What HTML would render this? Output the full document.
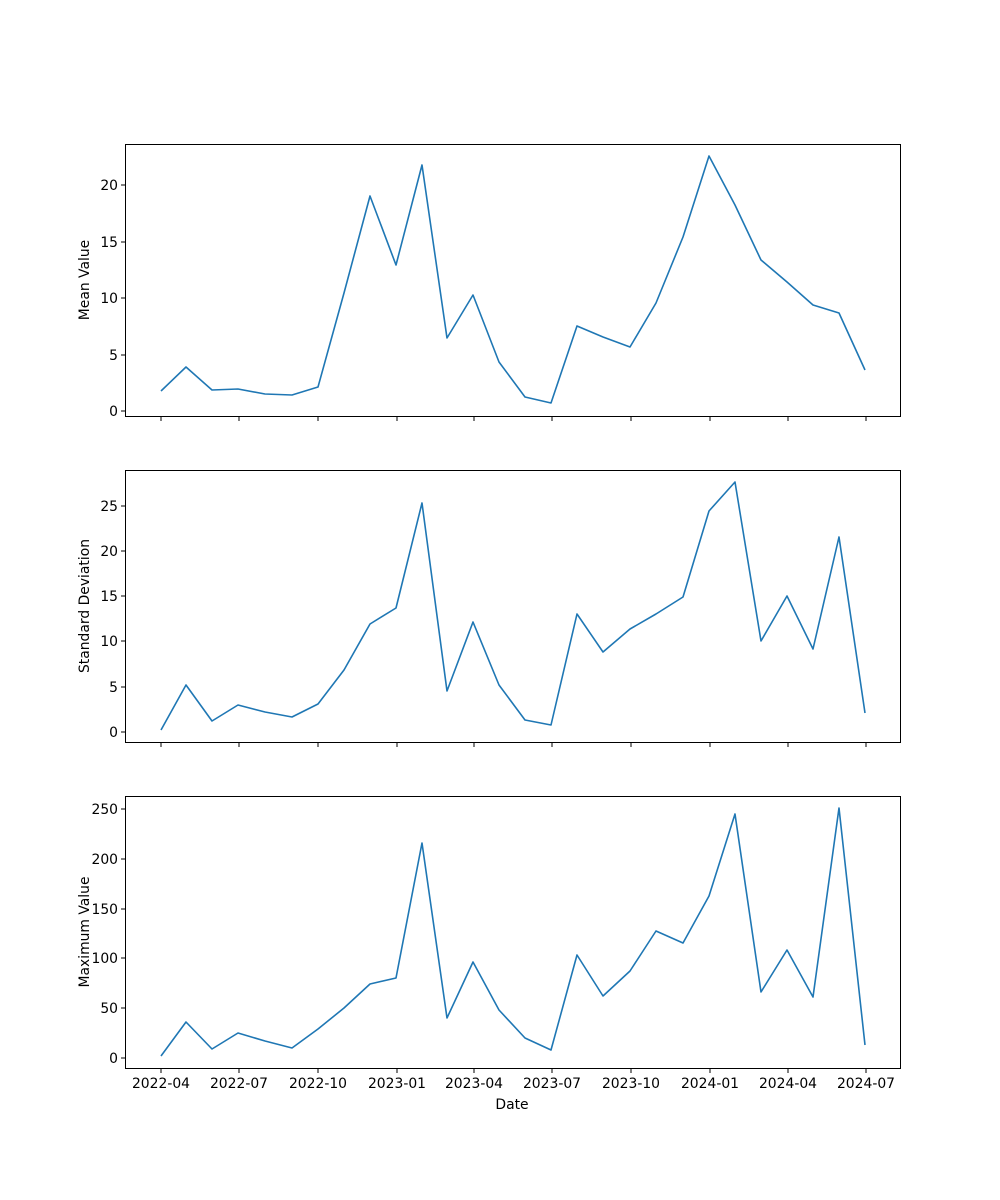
<!DOCTYPE html>
<html><head><meta charset="utf-8"><style>body{margin:0;background:#fff}svg{display:block}text{font-family:"DejaVu Sans","Liberation Sans",sans-serif;font-size:13.9px;fill:#000}</style></head><body>
<svg width="1000" height="1200" viewBox="0 0 1000 1200" xmlns="http://www.w3.org/2000/svg">
<rect width="1000" height="1200" fill="#fff"/>
<g fill="none" stroke="#000" stroke-width="1">
<rect x="125.5" y="144.5" width="775" height="272"/>
<rect x="125.5" y="470.5" width="775" height="272"/>
<rect x="125.5" y="796.5" width="775" height="272"/>
</g>
<g stroke="#1f77b4" stroke-width="1.6" fill="none" stroke-linejoin="round">
<polyline points="161,391 186,367 212,390 238,389 265,394 292,395 318,387 344,293 370,196 396,265 422,165 447,338 473,295 499,362 525,397 551,403 577,326 603,337 630,347 656,303 683,237 709,156 735,205 761,260 787,282 813,305 839,313 865,370"/>
<polyline points="161,730 186,685 212,721 238,705 265,712 292,717 318,704 344,670 370,624 396,608 422,503 447,691 473,622 499,685 525,720 551,725 577,614 603,652 630,629 656,614 683,597 709,511 735,482 761,641 787,596 813,649 839,537 865,713"/>
<polyline points="161,1056 186,1022 212,1049 238,1033 265,1041 292,1048 318,1029 344,1008 370,984 396,978 422,843 447,1018 473,962 499,1010 525,1038 551,1050 577,955 603,996 630,971 656,931 683,943 709,896 735,814 761,992 787,950 813,997 839,808 865,1045"/>
</g>
<g stroke="#000" stroke-width="1">
<path d="M121,411H125M121,355H125M121,298H125M121,242H125M121,185H125"/>
<path d="M121,732H125M121,687H125M121,641H125M121,596H125M121,551H125M121,506H125"/>
<path d="M121,1058H125M121,1008H125M121,958H125M121,909H125M121,859H125M121,809H125"/>
<path d="M161,417v4M239,417v4M318,417v4M397,417v4M474,417v4M552,417v4M631,417v4M710,417v4M788,417v4M866,417v4"/>
<path d="M161,743v4M239,743v4M318,743v4M397,743v4M474,743v4M552,743v4M631,743v4M710,743v4M788,743v4M866,743v4"/>
<path d="M161,1069v4M239,1069v4M318,1069v4M397,1069v4M474,1069v4M552,1069v4M631,1069v4M710,1069v4M788,1069v4M866,1069v4"/>
</g>
<g text-anchor="end">
<text x="118" y="416">0</text><text x="118" y="360">5</text><text x="118" y="303">10</text><text x="118" y="247">15</text><text x="118" y="190">20</text>
<text x="118" y="737">0</text><text x="118" y="692">5</text><text x="118" y="646">10</text><text x="118" y="601">15</text><text x="118" y="556">20</text><text x="118" y="511">25</text>
<text x="118" y="1063">0</text><text x="118" y="1013">50</text><text x="118" y="963">100</text><text x="118" y="914">150</text><text x="118" y="864">200</text><text x="118" y="814">250</text>
</g>
<g text-anchor="middle">
<text x="161" y="1088">2022-04</text><text x="239" y="1088">2022-07</text><text x="318" y="1088">2022-10</text><text x="397" y="1088">2023-01</text><text x="474" y="1088">2023-04</text><text x="552" y="1088">2023-07</text><text x="631" y="1088">2023-10</text><text x="710" y="1088">2024-01</text><text x="788" y="1088">2024-04</text><text x="866" y="1088">2024-07</text>
<text x="512" y="1109">Date</text>
<text transform="translate(89,280) rotate(-90)">Mean Value</text>
<text transform="translate(89,606) rotate(-90)">Standard Deviation</text>
<text transform="translate(89,932) rotate(-90)">Maximum Value</text>
</g>
</svg>
</body></html>
